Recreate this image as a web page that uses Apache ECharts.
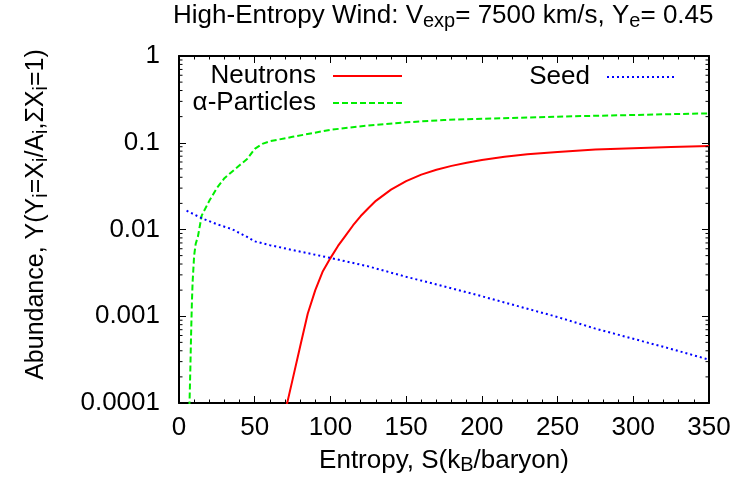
<!DOCTYPE html>
<html><head><meta charset="utf-8">
<script src="https://cdn.jsdelivr.net/npm/echarts@6/dist/echarts.min.js"></script>
<style>html,body{margin:0;padding:0;background:#fff}#c{width:736px;height:487px}</style>
</head><body><div id="c"></div>
<script>
// ---- data ----
const entropyNeutrons = [70, 75, 80, 85, 90, 95, 100, 105, 110, 115, 120, 125, 130, 140, 150, 160, 170, 180, 190, 200, 215, 230, 250, 275, 300, 325, 350];
const neutrons = [7.76e-5, 1.86e-4, 4.47e-4, 1.07e-3, 2.0e-3, 3.31e-3, 4.68e-3, 6.46e-3, 8.51e-3, 0.0112, 0.0143, 0.0176, 0.0214, 0.0288, 0.0361, 0.0429, 0.0488, 0.0541, 0.0589, 0.0632, 0.0689, 0.0735, 0.0783, 0.0838, 0.0867, 0.0895, 0.0918];

const entropyAlpha = [6.5, 7, 7.5, 8, 8.5, 9, 10, 11, 12.5, 15, 20, 25, 30, 40, 45, 50, 55, 60, 75, 100, 125, 150, 175, 200, 250, 300, 350];
const alphaParticles = [5.5e-5, 1.1e-4, 2.5e-4, 6.3e-4, 1.4e-3, 2.5e-3, 5.0e-3, 6.8e-3, 8.3e-3, 0.0145, 0.0214, 0.030, 0.039, 0.055, 0.065, 0.085, 0.097, 0.104, 0.117, 0.141, 0.158, 0.172, 0.183, 0.189, 0.200, 0.209, 0.218];

const entropySeed = [5, 15, 25, 35, 45, 50, 60, 75, 100, 125, 150, 175, 200, 225, 250, 275, 300, 325, 350];
const seed = [0.0165, 0.0135, 0.0115, 0.0101, 0.0082, 0.0073, 0.0066, 0.0058, 0.0047, 0.00376, 0.00285, 0.00221, 0.0017, 0.00129, 0.00098, 0.00072, 0.00055, 0.00042, 0.000316];

const seriesNames = ['Neutrons', 'α-Particles', 'Seed'];
const xTickLabels = ['0', '50', '100', '150', '200', '250', '300', '350'];
const yTickLabels = ['0.0001', '0.001', '0.01', '0.1', '1'];
const yMinorMultipliers = [2, 3, 4, 5, 6, 7, 8, 9];

// ---- chart ----
const X_MIN = 0, X_MAX = 350, Y_MIN = 1e-4, Y_MAX = 1;
const FONT = '"Liberation Sans", Arial, Helvetica, sans-serif';
const pair = (xs, ys) => xs.map((x, i) => [x, ys[i]]);
const yMinor = [];
for (let e = -4; e < 0; e++) yMinorMultipliers.forEach(m => yMinor.push(m * Math.pow(10, e)));

const subStyle = {fontSize: 20, lineHeight: 8, verticalAlign: 'bottom', fontFamily: FONT, color: '#000'};
const mainStyle = {fontSize: 26, lineHeight: 30, verticalAlign: 'bottom', fontFamily: FONT, color: '#000'};

const axisLine = {show: true, onZero: false, lineStyle: {color: '#000', width: 2}};
const axisTickMajor = {show: true, inside: true, length: 7, lineStyle: {color: '#000', width: 1}};

function xAxisDef(pos, showLabels) {
  return {
    type: 'value', position: pos, min: X_MIN, max: X_MAX, interval: 50,
    axisLine: axisLine, axisTick: axisTickMajor,
    minorTick: {show: true, splitNumber: 5, length: 3.5, lineStyle: {color: '#000', width: 1}},
    splitLine: {show: false},
    axisLabel: {show: showLabels, fontSize: 26, fontFamily: FONT, color: '#000', margin: 12,
      formatter: v => xTickLabels[Math.round(v / 50)]}
  };
}
function yAxisDef(pos, showLabels) {
  return {
    type: 'log', logBase: 10, position: pos, min: Y_MIN, max: Y_MAX, splitNumber: 4,
    axisLine: axisLine, axisTick: axisTickMajor,
    minorTick: {show: false}, splitLine: {show: false},
    axisLabel: {show: showLabels, fontSize: 26, fontFamily: FONT, color: '#000', margin: 19,
      formatter: v => yTickLabels[Math.round(Math.log10(v)) + 4]}
  };
}

const xMain = xAxisDef('bottom', true);
xMain.name = 'Entropy, S(k{s|B}/baryon)';
xMain.nameLocation = 'middle';
xMain.nameGap = 47;
xMain.nameTextStyle = Object.assign({}, mainStyle, {rich: {s: subStyle}});

const yMain = yAxisDef('left', true);
yMain.name = 'Abundance, Y(Y{s|i}=X{s|i}/A{s|i},ΣX{s|i}=1)';
yMain.nameLocation = 'middle';
yMain.nameGap = 128;
yMain.nameTextStyle = Object.assign({}, mainStyle, {fontSize: 25, padding: [0, 0, 0, 30], rich: {s: subStyle}});

function legendDef(name, right, top) {
  return {
    data: [name], right: right, top: top, padding: 0, align: 'right',
    itemWidth: 69, itemHeight: 14, selectedMode: false,
    itemStyle: {opacity: 0, color: 'rgba(0,0,0,0)', borderWidth: 0},
    textStyle: {fontSize: 26, lineHeight: 26, fontFamily: FONT, color: '#000', padding: [0, 12, 0, 0]}
  };
}

const option = {
  backgroundColor: '#fff',
  animation: false,
  title: {
    text: 'High-Entropy Wind: V{s|exp}= 7500 km/s, Y{s|e}= 0.45',
    left: 173, top: 1, padding: 0,
    textStyle: Object.assign({}, mainStyle, {fontWeight: 'normal', rich: {s: subStyle}})
  },
  legend: [
    legendDef(seriesNames[0], 333, 63),
    legendDef(seriesNames[1], 333, 90),
    legendDef(seriesNames[2], 59, 64)
  ],
  grid: {left: 179, right: 27, top: 56, bottom: 84, containLabel: false, outerBoundsMode: 'none'},
  xAxis: [xMain, xAxisDef('top', false)],
  yAxis: [yMain, yAxisDef('right', false)],
  series: [
    {name: seriesNames[0], type: 'line', data: pair(entropyNeutrons, neutrons), showSymbol: false, symbol: 'none',
      color: '#ff0000', lineStyle: {color: '#ff0000', width: 2, type: 'solid'}, z: 3},
    {name: seriesNames[1], type: 'line', data: pair(entropyAlpha, alphaParticles), showSymbol: false, symbol: 'none',
      color: '#00ee00', lineStyle: {color: '#00ee00', width: 2, type: [6, 3]}, z: 3},
    {name: seriesNames[2], type: 'line', data: pair(entropySeed, seed), showSymbol: false, symbol: 'none',
      color: '#0000ff', lineStyle: {color: '#0000ff', width: 2, type: [2, 3]}, z: 3},
    {type: 'custom', xAxisIndex: 0, yAxisIndex: 0, silent: true, z: 5,
      data: yMinor.map(v => [X_MIN, v]),
      renderItem: (params, api) => {
        const v = api.value(1);
        const l = api.coord([X_MIN, v]);
        const r = api.coord([X_MAX, v]);
        return {type: 'group', children: [
          {type: 'line', shape: {x1: l[0], y1: l[1], x2: l[0] + 3.5, y2: l[1]}, style: {stroke: '#000', lineWidth: 1}},
          {type: 'line', shape: {x1: r[0] - 3.5, y1: r[1], x2: r[0], y2: r[1]}, style: {stroke: '#000', lineWidth: 1}}
        ]};
      }}
  ]
};
const chart = echarts.init(document.getElementById('c'));
chart.setOption(option);
</script></body></html>
